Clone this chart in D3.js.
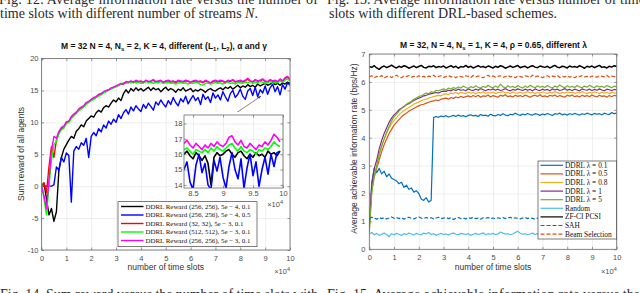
<!DOCTYPE html>
<html lang="en">
<head>
<meta charset="UTF-8">
<title>Sum reward and information rate versus time slots</title>
<script src="https://d3js.org/d3.v7.min.js"></script>
<style>
  body { margin: 0; background: #fff; }
  svg { display: block; }
  .tick text { font-family: "Liberation Sans", Arial, sans-serif; font-size: 7.5px; fill: #4d4d4d; }
  .tick line { stroke: #555; stroke-width: 0.6; }
  .caption { font-family: "Liberation Serif", "Times New Roman", serif; font-size: 14px; fill: #2a2a2a; }
  .title { font-family: "Liberation Sans", Arial, sans-serif; font-size: 8.5px; font-weight: bold; fill: #111; }
  .label { font-family: "Liberation Sans", Arial, sans-serif; font-size: 8.5px; fill: #333; }
  .legend text { font-family: "Liberation Serif", "Times New Roman", serif; font-size: 7.4px; fill: #111; }
  .legend.small text { font-size: 6.9px; }
</style>
</head>
<body>
<svg id="chart" width="640" height="293"></svg>
<script>
// ---------- data (time slots in units of 1e4, one sample every 0.1) ----------
const slotStep = 0.1;
const xTicks = [0, 1, 2, 3, 4, 5, 6, 7, 8, 9, 10];

// left panel: sum reward of all agents
const rewardTicks = [-10, -5, 0, 5, 10, 15, 20];
const rewardNames = [
  "DDRL Reward (256, 256), 5e \u2212 4, 0.1",
  "DDRL Reward (256, 256), 5e \u2212 4, 0.5",
  "DDRL Reward (32, 32), 5e \u2212 3, 0.1",
  "DDRL Reward (512, 512), 5e \u2212 3, 0.1",
  "DDRL Reward (256, 256), 5e \u2212 3, 0.1"
];
const rewardBlack = [
  0, 0.5, -2, -4.5, -3.5, -5.5, -4, 2.5, 4.5, 5.8, 6.5,
  7.2, 7.8, 7.5, 8.6, 9.0, 9.6, 9.3, 10.2, 10.6, 11.0,
  10.8, 11.5, 11.9, 11.6, 12.3, 12.6, 12.4, 13.0, 13.5, 13.2,
  13.8, 13.4, 14.5, 15.1, 14.6, 15.3, 14.9, 15.4, 15.0, 15.3,
  14.9, 15.2, 15.5, 15.0, 15.4, 15.1, 15.3, 14.8, 15.2, 15.5,
  15.0, 15.3, 15.1, 14.7, 15.2, 15.0, 15.4, 14.9, 15.1, 15.3,
  14.8, 15.1, 14.9, 15.2, 15.0, 14.7, 15.1, 15.3, 15.0, 14.9,
  15.2, 15.4, 15.1, 15.5, 15.3, 15.6, 15.2, 15.5, 15.8, 15.4,
  15.7, 15.5, 15.9, 15.6, 15.8, 15.5, 16.0, 15.7, 15.9, 16.1,
  15.8, 16.0, 16.2, 15.9, 16.1, 15.8, 16.2, 16.0, 16.3, 16.1
];
const rewardBlue = [
  0, 0, 0, 0, 0, 0.2, 3, 2.5, 4.5, 3.8, 5.2,
  4.8, -2.5, 5.5, 6.2, 5.8, 6.8, 6.4, 7.5, 4.5, 7.8,
  8.4, 7.9, 9.0, 8.5, 9.6, 9.1, 10.2, 9.7, 10.5, 10.0,
  11.2, 10.6, 11.5, 12.0, 11.3, 12.4, 11.8, 12.6, 12.1, 11.7,
  12.8, 12.2, 13.0, 12.5, 11.9, 13.2, 12.7, 13.5, 12.9, 12.4,
  13.4, 12.8, 13.9, 13.1, 12.6, 13.7, 13.2, 14.1, 12.9, 13.6,
  14.2, 13.4, 13.9, 12.8, 14.4, 13.6, 14.0, 13.1, 14.6, 13.8,
  14.3, 13.5, 14.8, 14.0, 13.3, 14.5, 15.0, 13.9, 14.4, 15.2,
  14.1, 13.6, 14.9, 15.3, 14.2, 15.5, 14.0, 15.1, 14.6, 15.7,
  14.4, 15.4, 16.0, 14.8, 15.6, 14.3, 15.9, 15.2, 16.2, 15.8
];
const rewardRed = [
  0, 0.5, -1, 3, 6.2, 4.5, 7.2, 8.4, 9.0, 9.3, 9.9,
  10.1, 10.8, 11.2, 11.5, 12.0, 12.3, 12.5, 13.0, 13.2, 13.5,
  13.8, 14.0, 14.3, 14.5, 14.7, 14.9, 15.1, 15.3, 15.5, 15.6,
  15.8, 16.0, 16.0, 16.3, 16.2, 16.4, 16.2, 16.5, 16.3, 16.4,
  16.2, 16.5, 16.3, 16.4, 16.6, 16.3, 16.4, 16.5, 16.2, 16.4,
  16.5, 16.3, 16.4, 16.2, 16.5, 16.4, 16.3, 16.5, 16.4, 16.2,
  16.4, 16.5, 16.3, 16.4, 16.2, 16.5, 16.3, 16.1, 16.4, 16.5,
  16.3, 16.5, 16.4, 16.2, 16.5, 16.4, 16.6, 16.3, 16.4, 16.5,
  16.3, 16.5, 16.8, 16.4, 16.3, 16.6, 16.4, 16.5, 16.7, 16.4,
  16.3, 16.6, 16.4, 16.5, 16.3, 16.7, 16.4, 16.9, 17.1, 16.7
];
const rewardGreen = [
  0.5, -2, -4.5, 0, 4, 6.5, 7, 8.2, 8.8, 9.1, 9.8,
  10.0, 10.6, 11.0, 11.4, 11.8, 12.1, 12.4, 12.8, 13.1, 13.4,
  13.6, 13.9, 14.1, 14.3, 14.6, 14.8, 15.0, 15.2, 15.4, 15.6,
  15.8, 16.0, 16.2, 16.1, 16.3, 16.2, 16.4, 16.2, 16.3, 16.1,
  16.2, 16.4, 16.2, 16.3, 16.1, 16.3, 16.2, 16.4, 16.1, 16.2,
  16.3, 16.1, 16.2, 16.0, 16.2, 16.3, 16.1, 16.2, 16.0, 16.2,
  16.1, 16.3, 16.2, 15.9, 15.8, 16.1, 16.2, 16.0, 16.1, 16.3,
  16.1, 16.2, 16.0, 16.2, 16.3, 16.1, 16.2, 16.0, 16.3, 16.2,
  16.1, 16.3, 16.2, 16.4, 16.1, 16.3, 16.2, 16.4, 16.3, 16.1,
  16.2, 16.4, 16.1, 16.3, 16.2, 16.5, 16.3, 16.6, 16.8, 16.5
];
const rewardMagenta = [
  0, -1.5, -3.5, 1, 5.5, 7.8, 7.5, 8.6, 9.2, 9.4, 10.1,
  10.2, 10.9, 11.3, 11.6, 12.1, 12.4, 12.6, 13.1, 13.3, 13.6,
  13.9, 14.0, 14.4, 14.5, 14.8, 15.0, 15.1, 15.4, 15.5, 15.7,
  15.9, 16.1, 16.0, 16.4, 16.3, 16.5, 16.3, 16.6, 16.4, 16.5,
  16.3, 16.6, 16.4, 16.5, 16.7, 16.4, 16.5, 16.6, 16.3, 16.5,
  16.6, 16.4, 16.5, 16.3, 16.6, 16.5, 16.4, 16.6, 16.5, 16.3,
  16.5, 16.6, 16.4, 16.5, 16.3, 16.6, 16.4, 16.2, 16.5, 16.6,
  16.4, 16.6, 16.5, 16.3, 16.6, 16.5, 16.7, 16.4, 16.5, 16.6,
  16.4, 16.6, 16.9, 16.5, 16.4, 16.7, 16.5, 16.6, 16.8, 16.5,
  16.4, 16.7, 16.5, 16.6, 16.4, 16.8, 16.5, 17.0, 17.2, 16.8
];

// zoomed inset, 8.35 .. 9.95 (x1e4), one sample every 0.05
const insetStart = 8.35, insetStep = 0.05;
const insetXTicks = [8.5, 9, 9.5, 10];
const insetYTicks = [14, 15, 16, 17, 18];
const insetBlack = [16.0, 16.2, 15.9, 15.7, 16.1, 15.9, 15.6, 15.9, 15.4, 14.0, 15.8,
  16.1, 15.9, 16.0, 16.2, 16.3, 16.0, 15.8, 16.1, 16.2, 15.9, 15.7, 16.0, 15.8,
  16.1, 15.9, 16.0, 15.8, 16.2, 16.0, 16.1, 15.9, 16.2];
const insetBlue = [15.0, 15.5, 14.2, 13.7, 15.3, 16.0, 14.8, 15.4, 14.0, 13.7, 15.6,
  14.9, 15.8, 14.5, 13.8, 15.2, 16.1, 15.0, 14.4, 15.7, 13.8, 15.1, 16.0, 14.6,
  15.5, 13.9, 15.0, 15.8, 14.7, 16.0, 15.2, 16.1, 16.2];
const insetGreen = [16.3, 16.4, 16.2, 16.0, 16.3, 16.2, 16.1, 16.3, 16.1, 16.4, 16.2,
  16.5, 16.3, 16.2, 16.4, 16.6, 16.7, 16.4, 16.2, 16.5, 16.2, 16.1, 16.3, 16.2,
  16.0, 16.3, 16.2, 16.4, 16.3, 16.5, 16.8, 16.6, 16.5];
const insetMagenta = [16.7, 16.9, 16.6, 16.4, 16.7, 16.5, 16.3, 16.6, 16.4, 16.7, 16.5,
  16.8, 16.6, 16.5, 16.7, 17.1, 17.2, 16.8, 16.6, 16.9, 16.5, 16.4, 16.7, 16.5,
  16.3, 16.6, 16.5, 16.8, 16.6, 16.9, 17.3, 17.1, 16.8];
// arrow from the inset to this point of the main plot (x1e4, reward)
const arrowTarget = [8.83, 14.1];
const arrowTailX = 9.17;

// right panel: average achievable information rate (bps/Hz)
const rateTicks = [0, 1, 2, 3, 4, 5, 6, 7];
const rateNames = ["DDRL \u03bb = 0.1", "DDRL \u03bb = 0.5", "DDRL \u03bb = 0.8", "DDRL \u03bb = 1",
  "DDRL \u03bb = 5", "Random", "ZF-CI PCSI", "SAH", "Beam Selection"];
const rateL01 = [
  0.8, 2.4, 2.9, 2.75, 2.9, 2.7, 2.8, 2.6, 2.7, 2.55, 2.5,
  2.45, 2.35, 2.4, 2.22, 2.3, 2.15, 2.2, 2.05, 2.1, 2.0,
  1.8, 1.75, 1.85, 1.7, 1.75, 4.72, 4.76, 4.73, 4.78, 4.75,
  4.79, 4.74, 4.77, 4.8, 4.76, 4.81, 4.77, 4.79, 4.75, 4.8,
  4.82, 4.78, 4.8, 4.76, 4.83, 4.79, 4.81, 4.77, 4.84, 4.8,
  4.78, 4.83, 4.8, 4.86, 4.81, 4.79, 4.84, 4.82, 4.88, 4.83,
  4.8, 4.85, 4.82, 4.87, 4.83, 4.81, 4.86, 4.84, 4.8, 4.85,
  4.82, 4.87, 4.83, 4.8, 4.86, 4.84, 4.88, 4.82, 4.85, 4.81,
  4.86, 4.83, 4.87, 4.84, 4.81, 4.86, 4.83, 4.88, 4.85, 4.82,
  4.87, 4.84, 4.86, 4.82, 4.88, 4.85, 4.83, 4.9, 4.86, 4.88
];
const rateL05 = [
  0.9, 2.2, 2.6, 2.9, 3.2, 3.5, 3.75, 3.95, 4.15, 4.3, 4.45,
  4.55, 4.65, 4.75, 4.82, 4.88, 4.95, 5.0, 5.05, 5.1, 5.14,
  5.18, 5.2, 5.24, 5.27, 5.3, 5.32, 5.35, 5.33, 5.38, 5.4,
  5.42, 5.38, 5.44, 5.41, 5.46, 5.43, 5.48, 5.44, 5.47, 5.5,
  5.46, 5.51, 5.47, 5.52, 5.45, 5.5, 5.48, 5.53, 5.46, 5.51,
  5.48, 5.45, 5.52, 5.49, 5.54, 5.47, 5.5, 5.46, 5.52, 5.48,
  5.51, 5.47, 5.53, 5.49, 5.45, 5.5, 5.52, 5.48, 5.54, 5.47,
  5.5, 5.46, 5.52, 5.49, 5.53, 5.47, 5.51, 5.48, 5.45, 5.52,
  5.49, 5.53, 5.47, 5.5, 5.46, 5.52, 5.48, 5.51, 5.47, 5.53,
  5.49, 5.46, 5.52, 5.48, 5.5, 5.45, 5.51, 5.47, 5.52, 5.49
];
const rateL08 = [
  0.7, 2.1, 2.7, 3.0, 3.4, 3.7, 3.95, 4.15, 4.35, 4.5, 4.62,
  4.72, 4.82, 4.9, 4.97, 5.03, 5.08, 5.14, 5.2, 5.24, 5.28,
  5.32, 5.36, 5.38, 5.42, 5.45, 5.47, 5.5, 5.52, 5.5, 5.55,
  5.57, 5.55, 5.6, 5.58, 5.62, 5.57, 5.63, 5.6, 5.58, 5.64,
  5.6, 5.62, 5.57, 5.63, 5.6, 5.65, 5.59, 5.62, 5.6, 5.64,
  5.58, 5.63, 5.61, 5.66, 5.6, 5.62, 5.58, 5.64, 5.61, 5.6,
  5.63, 5.59, 5.62, 5.65, 5.6, 5.63, 5.58, 5.62, 5.6, 5.64,
  5.61, 5.59, 5.63, 5.6, 5.65, 5.62, 5.58, 5.63, 5.6, 5.64,
  5.61, 5.63, 5.59, 5.62, 5.6, 5.65, 5.61, 5.58, 5.63, 5.6,
  5.64, 5.61, 5.59, 5.63, 5.6, 5.62, 5.58, 5.63, 5.61, 5.6
];
const rateL1 = [
  0.8, 2.3, 2.9, 3.2, 3.6, 3.9, 4.15, 4.35, 4.55, 4.7, 4.82,
  4.9, 5.0, 5.06, 5.12, 5.18, 5.22, 5.28, 5.33, 5.38, 5.42,
  5.45, 5.5, 5.52, 5.55, 5.58, 5.6, 5.62, 5.6, 5.65, 5.67,
  5.66, 5.7, 5.68, 5.73, 5.69, 5.74, 5.7, 5.72, 5.68, 5.75,
  5.71, 5.69, 5.74, 5.7, 5.76, 5.72, 5.68, 5.73, 5.71, 5.75,
  5.7, 5.74, 5.69, 5.72, 5.76, 5.71, 5.68, 5.73, 5.7, 5.75,
  5.72, 5.69, 5.74, 5.7, 5.73, 5.68, 5.75, 5.71, 5.69, 5.74,
  5.7, 5.73, 5.68, 5.75, 5.71, 5.74, 5.69, 5.72, 5.76, 5.7,
  5.73, 5.69, 5.74, 5.71, 5.68, 5.75, 5.72, 5.7, 5.74, 5.69,
  5.73, 5.7, 5.75, 5.71, 5.68, 5.74, 5.72, 5.69, 5.73, 5.71
];
const rateL5 = [
  0.6, 2.0, 2.6, 3.0, 3.4, 3.7, 3.95, 4.2, 4.4, 4.6, 4.75,
  4.85, 4.95, 5.05, 5.1, 5.2, 5.25, 5.3, 5.38, 5.42, 5.48,
  5.5, 5.55, 5.6, 5.58, 5.65, 5.62, 5.7, 5.68, 5.72, 5.75,
  5.7, 5.78, 5.74, 5.8, 5.76, 5.82, 5.78, 5.85, 5.8, 5.77,
  5.83, 5.79, 5.86, 5.81, 5.78, 5.84, 5.8, 5.88, 5.82, 5.79,
  5.85, 5.8, 5.92, 5.83, 5.78, 5.86, 5.81, 5.84, 5.79, 5.87,
  5.82, 5.78, 5.85, 5.8, 5.88, 5.83, 5.79, 5.86, 5.81, 5.84,
  5.8, 5.87, 5.82, 5.78, 5.85, 5.81, 5.89, 5.83, 5.79, 5.86,
  5.81, 5.84, 5.8, 5.87, 5.82, 5.79, 5.85, 5.81, 5.88, 5.83,
  5.79, 5.86, 5.82, 5.84, 5.8, 5.87, 5.83, 5.79, 5.85, 5.82
];
const rateRandom = [
  0.55, 0.6, 0.52, 0.57, 0.5, 0.54, 0.58, 0.53, 0.45, 0.56,
  0.52, 0.57, 0.54, 0.5, 0.56, 0.53, 0.58, 0.55, 0.51, 0.57,
  0.54, 0.52, 0.58, 0.55, 0.6, 0.53, 0.56, 0.5, 0.54, 0.57,
  0.53, 0.55, 0.51, 0.56, 0.58, 0.54, 0.52, 0.57, 0.55, 0.53,
  0.56, 0.5, 0.54, 0.57, 0.53, 0.55, 0.59, 0.52, 0.56, 0.54,
  0.57, 0.53, 0.55, 0.62, 0.58, 0.54, 0.56, 0.52, 0.55, 0.6,
  0.65, 0.57, 0.54, 0.56, 0.52, 0.55, 0.58, 0.53, 0.56, 0.54,
  0.51, 0.55, 0.57, 0.53, 0.56, 0.54, 0.52, 0.57, 0.55, 0.53,
  0.56, 0.54, 0.58, 0.52, 0.55, 0.57, 0.53, 0.56, 0.54, 0.51,
  0.55, 0.58, 0.53, 0.56, 0.54, 0.52, 0.57, 0.55, 0.53, 0.56, 0.55
];
const rateZF = [
  6.55, 6.52, 6.58, 6.5, 6.45, 6.53, 6.57, 6.51, 6.55, 6.6,
  6.54, 6.5, 6.56, 6.52, 6.58, 6.55, 6.49, 6.53, 6.57, 6.51,
  6.55, 6.59, 6.52, 6.5, 6.56, 6.54, 6.58, 6.51, 6.55, 6.53,
  6.57, 6.5, 6.54, 6.58, 6.52, 6.56, 6.49, 6.55, 6.53, 6.59,
  6.52, 6.56, 6.5, 6.54, 6.58, 6.53, 6.55, 6.51, 6.57, 6.54,
  6.5, 6.56, 6.52, 6.58, 6.55, 6.49, 6.53, 6.57, 6.52, 6.55,
  6.59, 6.51, 6.54, 6.56, 6.5, 6.55, 6.58, 6.53, 6.51, 6.57,
  6.54, 6.52, 6.56, 6.5, 6.55, 6.59, 6.53, 6.51, 6.56, 6.54,
  6.5, 6.57, 6.53, 6.55, 6.52, 6.58, 6.54, 6.49, 6.56, 6.53,
  6.57, 6.51, 6.55, 6.59, 6.52, 6.54, 6.5, 6.56, 6.53, 6.58, 6.55
];
const rateSAH = [
  1.1, 1.15, 1.12, 1.08, 1.14, 1.1, 1.13, 1.09, 1.12, 1.16,
  1.11, 1.14, 1.1, 1.13, 1.08, 1.12, 1.15, 1.11, 1.09, 1.13,
  1.16, 1.12, 1.1, 1.14, 1.11, 1.13, 1.09, 1.12, 1.15, 1.1,
  1.12, 1.14, 1.1, 1.13, 1.07, 1.11, 1.14, 1.1, 1.12, 1.09,
  1.13, 1.11, 1.15, 1.1, 1.12, 1.08, 1.13, 1.11, 1.14, 1.1,
  1.12, 1.09, 1.13, 1.11, 1.14, 1.1, 1.12, 1.15, 1.1, 1.13,
  1.11, 1.09, 1.12, 1.14, 1.1, 1.13, 1.11, 1.08, 1.12, 1.14,
  1.1, 1.13, 1.11, 1.15, 1.12, 1.09, 1.13, 1.11, 1.14, 1.1,
  1.12, 1.15, 1.11, 1.13, 1.09, 1.12, 1.14, 1.1, 1.13, 1.11,
  1.12, 1.09, 1.14, 1.11, 1.13, 1.1, 1.12, 1.15, 1.11, 1.13, 1.12
];
const rateBS = [
  6.18, 6.22, 6.15, 6.2, 6.17, 6.23, 6.14, 6.19, 6.21, 6.16,
  6.2, 6.24, 6.18, 6.15, 6.21, 6.19, 6.23, 6.17, 6.2, 6.16,
  6.22, 6.18, 6.2, 6.15, 6.21, 6.19, 6.24, 6.17, 6.2, 6.22,
  6.16, 6.19, 6.23, 6.18, 6.2, 6.15, 6.21, 6.19, 6.17, 6.22,
  6.2, 6.16, 6.23, 6.18, 6.21, 6.19, 6.15, 6.2, 6.24, 6.18,
  6.21, 6.17, 6.2, 6.22, 6.16, 6.19, 6.23, 6.18, 6.2, 6.15,
  6.21, 6.19, 6.17, 6.22, 6.2, 6.16, 6.24, 6.18, 6.21, 6.19,
  6.15, 6.2, 6.22, 6.17, 6.21, 6.19, 6.23, 6.16, 6.2, 6.18,
  6.22, 6.17, 6.2, 6.15, 6.21, 6.19, 6.23, 6.18, 6.2, 6.16,
  6.21, 6.19, 6.17, 6.22, 6.2, 6.18, 6.24, 6.17, 6.21, 6.19, 6.2
];

// ---------- styles ----------
const rewardSeries = [rewardBlack, rewardBlue, rewardRed, rewardGreen, rewardMagenta];
const rewardColors = ["#000000", "#0000ff", "#ff0000", "#00ff00", "#ff00ff"];
const insetSeries = [insetBlack, insetBlue, insetGreen, insetMagenta];
const insetColors = ["#000000", "#0000ff", "#00ff00", "#ff00ff"];
const rateSeries = [rateL01, rateL05, rateL08, rateL1, rateL5, rateRandom, rateZF, rateSAH, rateBS];
const rateColors = ["#0072bd", "#d95319", "#edb120", "#7e2f8e", "#77ac30", "#4dbeee", "#000000", "#0072bd", "#d95319"];
const rateDash = [null, null, null, null, null, null, null, "4,2", "4,2"];

const svg = d3.select("#chart");
const defs = svg.append("defs");
defs.append("marker").attr("id", "head").attr("viewBox", "0 0 10 10")
  .attr("refX", 9).attr("refY", 5).attr("markerWidth", 6).attr("markerHeight", 6)
  .attr("orient", "auto")
  .append("path").attr("d", "M0,1.5L10,5L0,8.5Z").attr("fill", "#333");

// axes box with grid, inside ticks on all four sides (matlab style)
function drawFrame(g, x, y, xt, yt, fmtX, fmtY, padX, padY) {
  const [l, r] = x.range(), [b, t] = y.range();
  g.append("rect").attr("x", l).attr("y", t).attr("width", r - l).attr("height", b - t).attr("fill", "#fff");
  g.append("g").attr("transform", `translate(0,${b})`)
    .call(d3.axisBottom(x).tickValues(xt).tickSize(-(b - t)).tickFormat(""))
    .call(a => a.select(".domain").remove())
    .selectAll("line").style("stroke", "#e3e3e3").style("stroke-width", 0.6);
  g.append("g").attr("transform", `translate(${l},0)`)
    .call(d3.axisLeft(y).tickValues(yt).tickSize(-(r - l)).tickFormat(""))
    .call(a => a.select(".domain").remove())
    .selectAll("line").style("stroke", "#e3e3e3").style("stroke-width", 0.6);
  g.append("g").attr("transform", `translate(0,${b})`)
    .call(d3.axisBottom(x).tickValues(xt).tickSizeInner(-2.5).tickSizeOuter(0).tickPadding(padX).tickFormat(fmtX));
  g.append("g").attr("transform", `translate(${l},0)`)
    .call(d3.axisLeft(y).tickValues(yt).tickSizeInner(-2.5).tickSizeOuter(0).tickPadding(padY).tickFormat(fmtY));
  g.append("g").attr("transform", `translate(0,${t})`)
    .call(d3.axisTop(x).tickValues(xt).tickSizeInner(-2.5).tickSizeOuter(0).tickFormat(""));
  g.append("g").attr("transform", `translate(${r},0)`)
    .call(d3.axisRight(y).tickValues(yt).tickSizeInner(-2.5).tickSizeOuter(0).tickFormat(""));
  g.selectAll(".domain").remove();
}

function drawBox(g, x, y) {
  const [l, r] = x.range(), [b, t] = y.range();
  g.append("rect").attr("x", l).attr("y", t).attr("width", r - l).attr("height", b - t)
    .attr("fill", "none").attr("stroke", "#6a6a6a").attr("stroke-width", 0.8);
}

function clipFor(id, x, y) {
  const [l, r] = x.range(), [b, t] = y.range();
  defs.append("clipPath").attr("id", id)
    .append("rect").attr("x", l).attr("y", t).attr("width", r - l).attr("height", b - t);
  return `url(#${id})`;
}

function times10(g, xRight, yBase) {
  const tx = g.append("text").attr("class", "label").attr("x", xRight).attr("y", yBase)
    .attr("text-anchor", "end").style("font-size", "7.5px").style("fill", "#4d4d4d");
  tx.append("tspan").text("\u00d710");
  tx.append("tspan").attr("dy", -3).style("font-size", "5.5px").text("4");
}

const fmtPlain = d => String(d);

// ---------- left panel ----------
const gL = svg.append("g");
const xL = d3.scaleLinear().domain([0, 10]).range([41.5, 290]);
const yL = d3.scaleLinear().domain([-10, 20]).range([250, 58.5]);
drawFrame(gL, xL, yL, xTicks, rewardTicks, fmtPlain, fmtPlain, 5.5, 3);

const lineL = d3.line().x((d, i) => xL(i * slotStep)).y(d => yL(d));
gL.append("g").attr("clip-path", clipFor("clipL", xL, yL))
  .selectAll("path").data(rewardSeries).join("path")
  .attr("d", lineL).attr("fill", "none")
  .attr("stroke", (d, i) => rewardColors[i]).attr("stroke-width", 1.4)
  .attr("stroke-linejoin", "round");
drawBox(gL, xL, yL);

// title
const tL = gL.append("text").attr("class", "title").attr("x", 164)
  .attr("y", 49).attr("text-anchor", "middle")
  .attr("textLength", 206).attr("lengthAdjust", "spacing");
tL.append("tspan").text("M = 32 N = 4, N");
tL.append("tspan").attr("dy", 2).style("font-size", "6px").text("s");
tL.append("tspan").attr("dy", -2).text(" = 2, K = 4, different (L");
tL.append("tspan").attr("dy", 2).style("font-size", "6px").text("1");
tL.append("tspan").attr("dy", -2).text(", L");
tL.append("tspan").attr("dy", 2).style("font-size", "6px").text("2");
tL.append("tspan").attr("dy", -2).text("), \u03b1 and \u03b3");

gL.append("text").attr("class", "label").attr("transform", "translate(24,154) rotate(-90)")
  .attr("text-anchor", "middle").text("Sum reward of all agents");
gL.append("text").attr("class", "label").attr("x", 165.75).attr("y", 270)
  .attr("text-anchor", "middle").text("number of time slots");
times10(gL, 290, 274);

// inset
const gI = svg.append("g");
const xI = d3.scaleLinear().domain([8.35, 10]).range([184, 283]);
const yI = d3.scaleLinear().domain([13.8, 18.55]).range([188, 115]);
gI.append("rect").attr("x", 172).attr("y", 112).attr("width", 113).attr("height", 88).attr("fill", "#fff");
drawFrame(gI, xI, yI, insetXTicks, insetYTicks, fmtPlain, fmtPlain, 3, 1.5);
const lineI = d3.line().x((d, i) => xI(insetStart + i * insetStep)).y(d => yI(d));
gI.append("g").attr("clip-path", clipFor("clipI", xI, yI))
  .selectAll("path").data(insetSeries).join("path")
  .attr("d", lineI).attr("fill", "none")
  .attr("stroke", (d, i) => insetColors[i]).attr("stroke-width", 1.6)
  .attr("stroke-linejoin", "round");
drawBox(gI, xI, yI);
times10(gI, 283, 207);

gL.append("line")
  .attr("x1", xI(arrowTailX)).attr("y1", yI.range()[1])
  .attr("x2", xL(arrowTarget[0])).attr("y2", yL(arrowTarget[1]))
  .attr("stroke", "#333").attr("stroke-width", 0.6).attr("marker-end", "url(#head)");

// left legend
const legL = svg.append("g").attr("class", "legend small");
legL.append("rect").attr("x", 118).attr("y", 201.7).attr("width", 139).attr("height", 45)
  .attr("fill", "#fff").attr("stroke", "#262626").attr("stroke-width", 0.6);
const rowL = legL.selectAll("g").data(rewardNames).join("g")
  .attr("transform", (d, i) => `translate(0,${206.5 + i * 8.5})`);
rowL.append("line").attr("x1", 121).attr("x2", 143.5)
  .attr("stroke", (d, i) => rewardColors[i]).attr("stroke-width", 1.4);
rowL.append("text").attr("x", 145.5).attr("dy", "0.33em").text(d => d);

// ---------- right panel ----------
const gR = svg.append("g");
const xR = d3.scaleLinear().domain([0, 10]).range([369.3, 616.7]);
const yR = d3.scaleLinear().domain([0, 7]).range([249.3, 54]);
drawFrame(gR, xR, yR, xTicks, rateTicks, fmtPlain, fmtPlain, 5.5, 4);

const lineR = d3.line().x((d, i) => xR(i * slotStep)).y(d => yR(d));
gR.append("g").attr("clip-path", clipFor("clipR", xR, yR))
  .selectAll("path").data(rateSeries).join("path")
  .attr("d", lineR).attr("fill", "none")
  .attr("stroke", (d, i) => rateColors[i]).attr("stroke-width", (d, i) => i === 6 ? 1.5 : 1.2)
  .attr("stroke-dasharray", (d, i) => rateDash[i])
  .attr("stroke-linejoin", "round");
drawBox(gR, xR, yR);

const tR = gR.append("text").attr("class", "title").attr("x", 493.5)
  .attr("y", 47.5).attr("text-anchor", "middle")
  .attr("textLength", 187).attr("lengthAdjust", "spacing");
tR.append("tspan").text("M = 32, N = 4, N");
tR.append("tspan").attr("dy", 2).style("font-size", "6px").text("s");
tR.append("tspan").attr("dy", -2).text(" = 1, K = 4, \u03c1 = 0.65, different \u03bb");

gR.append("text").attr("class", "label").attr("transform", "translate(357,148.5) rotate(-90)")
  .attr("text-anchor", "middle").text("Average achievable information rate (bps/Hz)");
gR.append("text").attr("class", "label").attr("x", 493).attr("y", 270)
  .attr("text-anchor", "middle").text("number of time slots");
times10(gR, 616.7, 274);

// right legend
const legR = svg.append("g").attr("class", "legend");
legR.append("rect").attr("x", 538).attr("y", 161).attr("width", 78.7).attr("height", 78)
  .attr("fill", "#fff").attr("stroke", "#262626").attr("stroke-width", 0.6);
const rowR = legR.selectAll("g").data(rateNames).join("g")
  .attr("transform", (d, i) => `translate(0,${165.3 + i * 8.6})`);
rowR.append("line").attr("x1", 540.5).attr("x2", 563)
  .attr("stroke", (d, i) => rateColors[i]).attr("stroke-width", 1.2)
  .attr("stroke-dasharray", (d, i) => rateDash[i]);
rowR.append("text").attr("x", 565).attr("dy", "0.33em").text(d => d);

// ---------- surrounding caption text of the page ----------
const cap = svg.append("g").attr("class", "caption");
cap.append("text").attr("x", -1).attr("y", 4).attr("textLength", 319).attr("lengthAdjust", "spacing")
  .text("Fig. 12.   Average information rate versus the number of");
cap.append("text").attr("x", 327).attr("y", 4).attr("textLength", 318).attr("lengthAdjust", "spacing")
  .text("Fig. 13.   Average information rate versus number of time");
const c2 = cap.append("text").attr("x", 0).attr("y", 17.5);
c2.append("tspan").text("time slots with different number of streams ");
c2.append("tspan").style("font-style", "italic").text("N");
c2.append("tspan").text(".");
cap.append("text").attr("x", 329).attr("y", 17.5).text("slots with different DRL-based schemes.");
cap.append("text").attr("x", 0).attr("y", 298.5).attr("textLength", 318).attr("lengthAdjust", "spacing")
  .text("Fig. 14.   Sum reward versus the number of time slots with");
cap.append("text").attr("x", 327).attr("y", 298.5).attr("textLength", 313).attr("lengthAdjust", "spacing")
  .text("Fig. 15.   Average achievable information rate versus the");
</script>
</body>
</html>
